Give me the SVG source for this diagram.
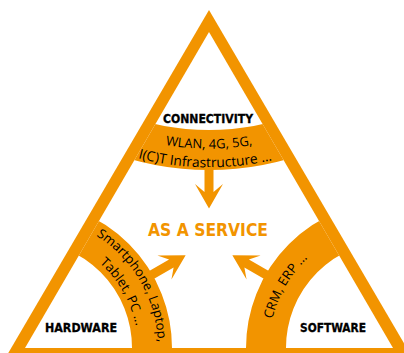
<svg xmlns="http://www.w3.org/2000/svg" xmlns:xlink="http://www.w3.org/1999/xlink" width="404" height="353" viewBox="0 0 404 353">
  <style>
    .org { fill: #F29400; }
    .band { fill: none; stroke: #F29400; stroke-width: 40; }
    .head { font-family: "DejaVu Sans", "Liberation Sans", sans-serif; font-weight: bold; font-size: 13px; fill: #000; stroke: #000; stroke-width: 0.35; }
    .sub { font-family: "Open Sans", "Liberation Sans", sans-serif; font-size: 13px; fill: #000; }
    .big { font-size: 13.8px; }
    .svc { font-family: "DejaVu Sans", "Liberation Sans", sans-serif; font-weight: bold; font-size: 18px; fill: #F29400; }
  </style>
  <defs>
    <clipPath id="inner">
      <polygon points="209,32 25,348 393,348"/>
    </clipPath>
    <path id="arrow" d="M-4.5,-3 L4.5,-3 L4.5,22 L14,14 L0,38.5 L-14,14 L-4.5,22 Z"/>
    <path id="pc1" d="M38.7,86.5 A264.5,264.5 0 0 0 379.3,86.5"/>
    <path id="pc2" d="M27,101 A283,283 0 0 0 391,101"/>
    <path id="ph1" d="M48.1,217 A133,133 0 0 1 150,393.5"/>
    <path id="ph2" d="M44.6,236.7 A113,113 0 0 1 131.2,386.6"/>
    <path id="ps1" d="M276.5,390.4 A124,124 0 0 1 371.5,225.9"/>
  </defs>

  <g id="frame">
    <polygon class="org" points="209,10 3,362 415,362"/>
    <polygon fill="#FFFFFF" points="209,32 25,348 393,348"/>
  </g>

  <g id="connectivity">
    <circle class="band" cx="209" cy="-116" r="266" clip-path="url(#inner)"/>
    <text class="head" x="208" y="123" text-anchor="middle" textLength="90" lengthAdjust="spacingAndGlyphs">CONNECTIVITY</text>
    <text class="sub"><textPath xlink:href="#pc1" href="#pc1" startOffset="50%" text-anchor="middle">WLAN, 4G, 5G,</textPath></text>
    <text class="sub big"><textPath xlink:href="#pc2" href="#pc2" startOffset="49%" text-anchor="middle">I(C)T Infrastructure ...</textPath></text>
  </g>

  <g id="hardware">
    <circle class="band" cx="25" cy="348" r="127" clip-path="url(#inner)"/>
    <text class="head" x="81" y="332" text-anchor="middle" textLength="72" lengthAdjust="spacingAndGlyphs">HARDWARE</text>
    <text class="sub"><textPath xlink:href="#ph1" href="#ph1" startOffset="50%" text-anchor="middle">Smartphone, Laptop,</textPath></text>
    <text class="sub"><textPath xlink:href="#ph2" href="#ph2" startOffset="50%" text-anchor="middle">Tablet, PC ...</textPath></text>
  </g>

  <g id="software">
    <circle class="band" cx="393" cy="348" r="127" clip-path="url(#inner)"/>
    <text class="head" x="333" y="332" text-anchor="middle" textLength="66" lengthAdjust="spacingAndGlyphs">SOFTWARE</text>
    <text class="sub"><textPath xlink:href="#ps1" href="#ps1" startOffset="50%" text-anchor="middle">CRM, ERP ...</textPath></text>
  </g>

  <g id="service">
    <text class="svc" x="208" y="236" text-anchor="middle" textLength="120" lengthAdjust="spacingAndGlyphs">AS A SERVICE</text>
  </g>

  <g id="connectors">
    <use xlink:href="#arrow" href="#arrow" class="org" transform="translate(209,170)"/>
    <use xlink:href="#arrow" href="#arrow" class="org" transform="translate(152.3,274.5) rotate(-120)"/>
    <use xlink:href="#arrow" href="#arrow" class="org" transform="translate(265.7,274.5) rotate(120)"/>
  </g>
</svg>
